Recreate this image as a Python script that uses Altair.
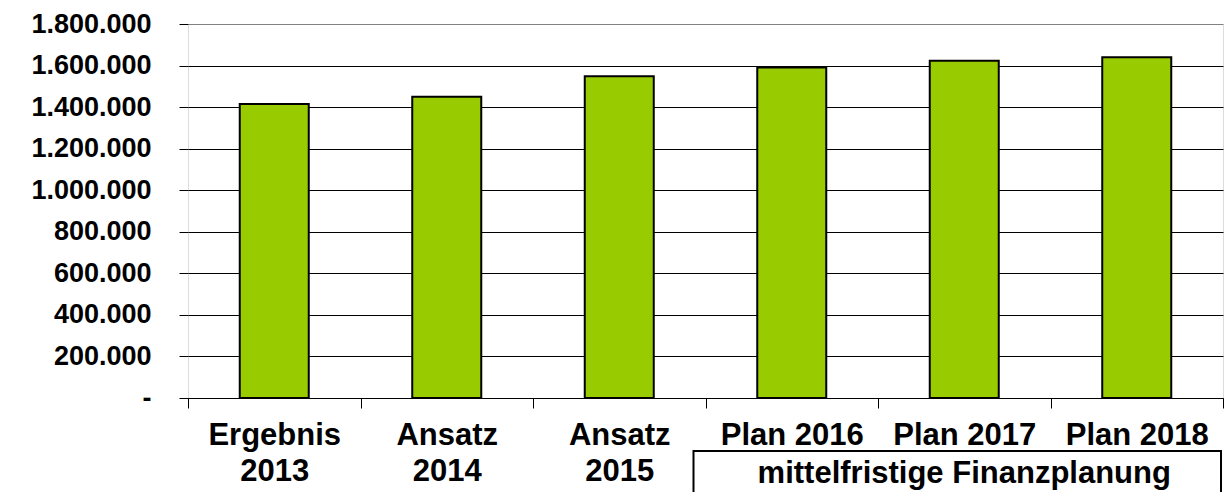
import altair as alt
import pandas as pd

categories = ["Ergebnis 2013", "Ansatz 2014", "Ansatz 2015", "Plan 2016", "Plan 2017", "Plan 2018"]
values = [1415000, 1450000, 1548000, 1591000, 1623000, 1640000]
y_ticks = [0, 200000, 400000, 600000, 800000, 1000000, 1200000, 1400000, 1600000, 1800000]
group_label = "mittelfristige Finanzplanung"
group_start = "Plan 2016"
group_end = "Plan 2018"

df = pd.DataFrame({"cat": categories, "val": values})

FONT = "Liberation Sans"

xscale = alt.Scale(domain=categories, paddingInner=0, paddingOuter=0)

bars = alt.Chart(df).mark_bar(
    width=alt.RelativeBandSize(0.4), color="#99CC00", stroke="black", strokeWidth=2
).encode(
    x=alt.X("cat:N", sort=None, scale=xscale, title=None,
            axis=alt.Axis(
                tickBand="extent", labelAngle=0, domainColor="black", domainWidth=1,
                tickColor="black", tickSize=10, tickWidth=1,
                labelFont=FONT, labelFontSize=31, labelFontWeight="bold", labelColor="black",
                labelPadding=12, labelLineHeight=36,
                labelExpr="indexof(datum.label, 'Plan') == 0 ? datum.label : split(datum.label, ' ')",
                grid=False)),
    y=alt.Y("val:Q", title=None,
            scale=alt.Scale(domain=[0, 1800000], nice=False, zero=True),
            axis=alt.Axis(
                values=y_ticks, domain=False, tickColor="black", tickSize=9, tickWidth=1,
                labelFont=FONT, labelFontSize=27, labelFontWeight="bold", labelColor="black",
                labelPadding=28,
                labelExpr="datum.value == 0 ? '-' : replace(format(datum.value, ',.0f'), regexp(',', 'g'), '.')",
                grid=True, gridWidth=1,
                gridColor=alt.condition("datum.value == 1800000", alt.value("#808080"), alt.value("black")))),
)

box = alt.Chart(df).mark_rect(fill=None, fillOpacity=0, stroke="black", strokeWidth=2, clip=False,
                              xOffset=-12, x2Offset=-2).encode(
    x=alt.X(datum=group_start, bandPosition=0, scale=xscale),
    x2=alt.X2(datum=group_end, bandPosition=1),
    y=alt.value(427),
    y2=alt.value(520),
).transform_filter("datum.cat == 'Plan 2017'")

label = alt.Chart(df).mark_text(
    text=group_label, font=FONT, fontSize=31, fontWeight="bold", color="black",
    baseline="alphabetic", align="center", clip=False
).encode(
    x=alt.X(datum="Plan 2017", scale=xscale),
    y=alt.value(459),
).transform_filter("datum.cat == 'Plan 2017'")

chart = alt.layer(bars, box, label).properties(
    width=1035, height=374,
    autosize=alt.AutoSizeParams(type="none"),
    padding={"left": 180, "top": 16, "right": 1, "bottom": 94},
).configure_view(stroke="#808080", strokeWidth=2).configure(background="white")

chart.save("out.html", embed_options={"renderer": "svg", "actions": False})
